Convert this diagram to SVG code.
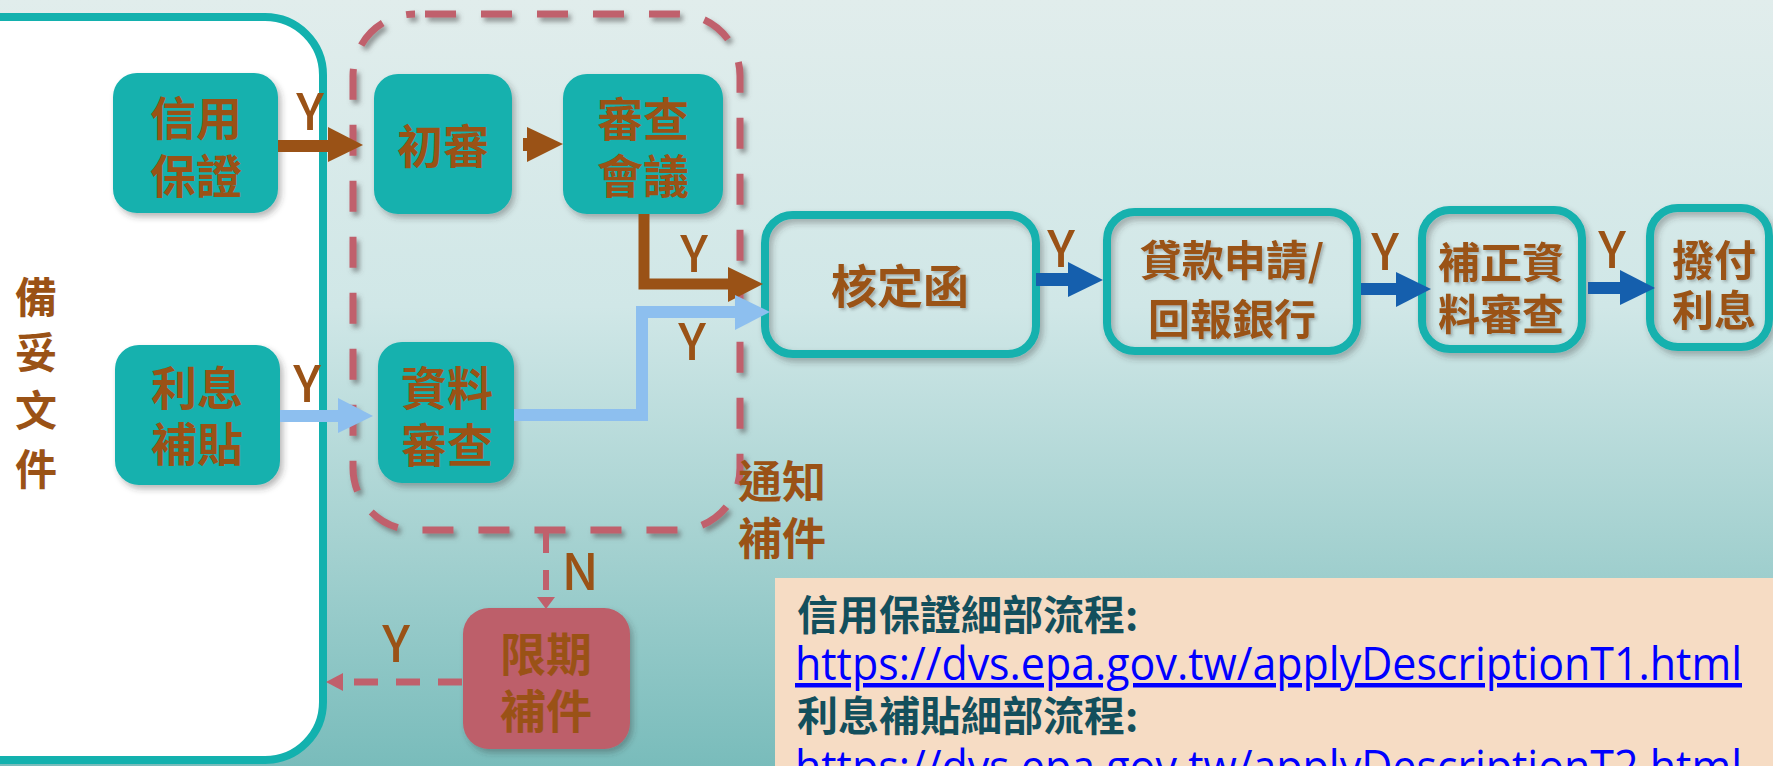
<svg xmlns="http://www.w3.org/2000/svg" width="1773" height="766" viewBox="0 0 1773 766">
<defs>
<linearGradient id="bg" x1="0" y1="0" x2="0" y2="1">
<stop offset="0" stop-color="#e1edec"/>
<stop offset="0.4" stop-color="#d0e7e7"/>
<stop offset="0.7" stop-color="#a6d2d1"/>
<stop offset="1" stop-color="#79bcbb"/>
</linearGradient>
<filter id="sh" x="-20%" y="-20%" width="140%" height="140%">
<feDropShadow dx="3" dy="4" stdDeviation="3" flood-color="#333" flood-opacity="0.35"/>
</filter>
<filter id="dsh" x="-10%" y="-10%" width="120%" height="120%">
<feDropShadow dx="3" dy="4" stdDeviation="2.5" flood-color="#555" flood-opacity="0.6"/>
</filter>
<filter id="ts" x="-10%" y="-10%" width="120%" height="130%">
<feDropShadow dx="2" dy="2" stdDeviation="1.5" flood-color="#333" flood-opacity="0.3"/>
</filter>
<style>
.lbl{font-family:"Noto Sans CJK TC","Noto Sans CJK SC",sans-serif;font-weight:700;fill:#9a5216;text-anchor:middle}
.big{font-size:46px}
.mid{font-size:42px}
.yn{font-family:"Noto Sans CJK TC","Noto Sans",sans-serif;font-weight:500;font-size:50px;fill:#9a5216;text-anchor:middle}
.tbox{fill:#13b1ae}
.obox{fill:none;stroke:#13b1ae;stroke-width:8}
.brown{fill:#9a5216}
.lblue{fill:#8dbfef}
.dblue{fill:#155fad}
.rose{fill:#c0606c}
.info{font-family:"Noto Sans CJK TC","Noto Sans CJK SC",sans-serif;font-weight:700;font-size:41px;fill:#134f5c}
.url{font-family:"Open Sans","Noto Sans",sans-serif;font-size:45px;fill:#0000ff;text-decoration:underline}
</style>
</defs>
<rect x="0" y="0" width="1773" height="766" fill="url(#bg)"/>

<g id="prepare">
<rect x="-60" y="17" width="383" height="743" rx="58" fill="#ffffff" stroke="#13b1ae" stroke-width="8"/>
<text class="lbl" style="font-size:42px" x="36" y="313">備</text>
<text class="lbl" style="font-size:42px" x="36" y="368">妥</text>
<text class="lbl" style="font-size:42px" x="36" y="426">文</text>
<text class="lbl" style="font-size:42px" x="36" y="485">件</text>
</g>

<g id="review-group">
<rect x="353" y="14" width="387" height="516" rx="62" fill="none" stroke="#c0606c" stroke-width="7" stroke-dasharray="31 25" stroke-dashoffset="46" filter="url(#dsh)"/>
</g>

<g id="credit">
<rect class="tbox" x="113" y="73" width="165" height="140" rx="24" filter="url(#sh)"/>
<text class="lbl big" x="196" y="135">信用</text>
<text class="lbl big" x="196" y="193">保證</text>
</g>

<g id="interest">
<rect class="tbox" x="115" y="345" width="165" height="140" rx="24" filter="url(#sh)"/>
<text class="lbl big" x="197" y="405">利息</text>
<text class="lbl big" x="197" y="461">補貼</text>
</g>

<g id="initial">
<rect class="tbox" x="374" y="74" width="138" height="140" rx="24" filter="url(#sh)"/>
<text class="lbl big" x="443" y="163">初審</text>
</g>

<g id="meeting">
<rect class="tbox" x="563" y="74" width="160" height="140" rx="24" filter="url(#sh)"/>
<text class="lbl big" x="643" y="136">審查</text>
<text class="lbl big" x="643" y="193">會議</text>
</g>

<g id="datareview">
<rect class="tbox" x="378" y="342" width="136" height="141" rx="24" filter="url(#sh)"/>
<text class="lbl big" x="447" y="405">資料</text>
<text class="lbl big" x="447" y="462">審查</text>
</g>

<g id="deadline">
<rect x="463" y="608" width="167" height="141" rx="26" fill="#bd5f6a" filter="url(#sh)"/>
<text class="lbl big" x="546" y="671">限期</text>
<text class="lbl big" x="546" y="728">補件</text>
</g>

<g id="approval">
<rect class="obox" x="765" y="215" width="271" height="139" rx="28" filter="url(#sh)"/>
<text class="lbl big" x="900" y="303" filter="url(#ts)">核定函</text>
</g>

<g id="loan">
<rect class="obox" x="1107" y="212" width="250" height="139" rx="28" filter="url(#sh)"/>
<text class="lbl mid" x="1232" y="276" filter="url(#ts)">貸款申請/</text>
<text class="lbl mid" x="1232" y="335" filter="url(#ts)">回報銀行</text>
</g>

<g id="supplement">
<rect class="obox" x="1422" y="210" width="160" height="139" rx="28" filter="url(#sh)"/>
<text class="lbl mid" x="1501" y="278" filter="url(#ts)">補正資</text>
<text class="lbl mid" x="1501" y="330" filter="url(#ts)">料審查</text>
</g>

<g id="disburse">
<rect class="obox" x="1650" y="208" width="119" height="139" rx="28" filter="url(#sh)"/>
<text class="lbl mid" x="1714" y="276" filter="url(#ts)">撥付</text>
<text class="lbl mid" x="1714" y="326" filter="url(#ts)">利息</text>
</g>

<g id="notify-label">
<text class="lbl" style="font-size:44px;text-anchor:start" x="738" y="498">通知</text>
<text class="lbl" style="font-size:44px;text-anchor:start" x="738" y="555">補件</text>
</g>

<g id="connectors">
<rect class="brown" x="278" y="140" width="52" height="12"/>
<polygon class="brown" points="328,127 363,145 328,162"/>
<text class="yn" x="310" y="130">Y</text>

<rect class="brown" x="523" y="138" width="6" height="13"/>
<polygon class="brown" points="527,127 563,144 527,162"/>

<path d="M644,214 V284 H731" fill="none" stroke="#9a5216" stroke-width="11" stroke-linejoin="miter"/>
<polygon class="brown" points="728,267 763,284 728,302"/>
<text class="yn" x="694" y="272">Y</text>

<rect class="lblue" x="280" y="410" width="61" height="12"/>
<polygon class="lblue" points="338,398 373,416 338,433"/>
<text class="yn" x="307" y="402">Y</text>

<path d="M514,415 H642 V312 H738" fill="none" stroke="#8dbfef" stroke-width="12" stroke-linejoin="miter"/>
<polygon class="lblue" points="735,295 770,312 735,330"/>
<text class="yn" x="692" y="360">Y</text>

<rect class="dblue" x="1036" y="273" width="34" height="13"/>
<polygon class="dblue" points="1068,262 1103,280 1068,297"/>
<text class="yn" x="1061" y="267">Y</text>

<rect class="dblue" x="1361" y="283" width="37" height="12"/>
<polygon class="dblue" points="1396,272 1431,289 1396,307"/>
<text class="yn" x="1385" y="270">Y</text>

<rect class="dblue" x="1588" y="282" width="34" height="12"/>
<polygon class="dblue" points="1620,270 1655,288 1620,305"/>
<text class="yn" x="1612" y="268">Y</text>

<line x1="546" y1="533" x2="546" y2="598" stroke="#c0606c" stroke-width="6" stroke-dasharray="20 17"/>
<polygon class="rose" points="537,597 555,597 546,609"/>
<text class="yn" x="580" y="590">N</text>

<line x1="462" y1="682" x2="343" y2="682" stroke="#c0606c" stroke-width="7" stroke-dasharray="24 18"/>
<polygon class="rose" points="343,673 326,682 343,691"/>
<text class="yn" x="396" y="662">Y</text>
</g>

<g id="info">
<rect x="775" y="578" width="1010" height="200" fill="#f6dcc4"/>
<text class="info" x="797" y="630">信用保證細部流程:</text>
<text class="url" x="795" y="680" textLength="947" lengthAdjust="spacingAndGlyphs">https://dvs.epa.gov.tw/applyDescriptionT1.html</text>
<text class="info" x="797" y="731">利息補貼細部流程:</text>
<text class="url" x="795" y="783" textLength="947" lengthAdjust="spacingAndGlyphs">https://dvs.epa.gov.tw/applyDescriptionT2.html</text>
</g>
</svg>
